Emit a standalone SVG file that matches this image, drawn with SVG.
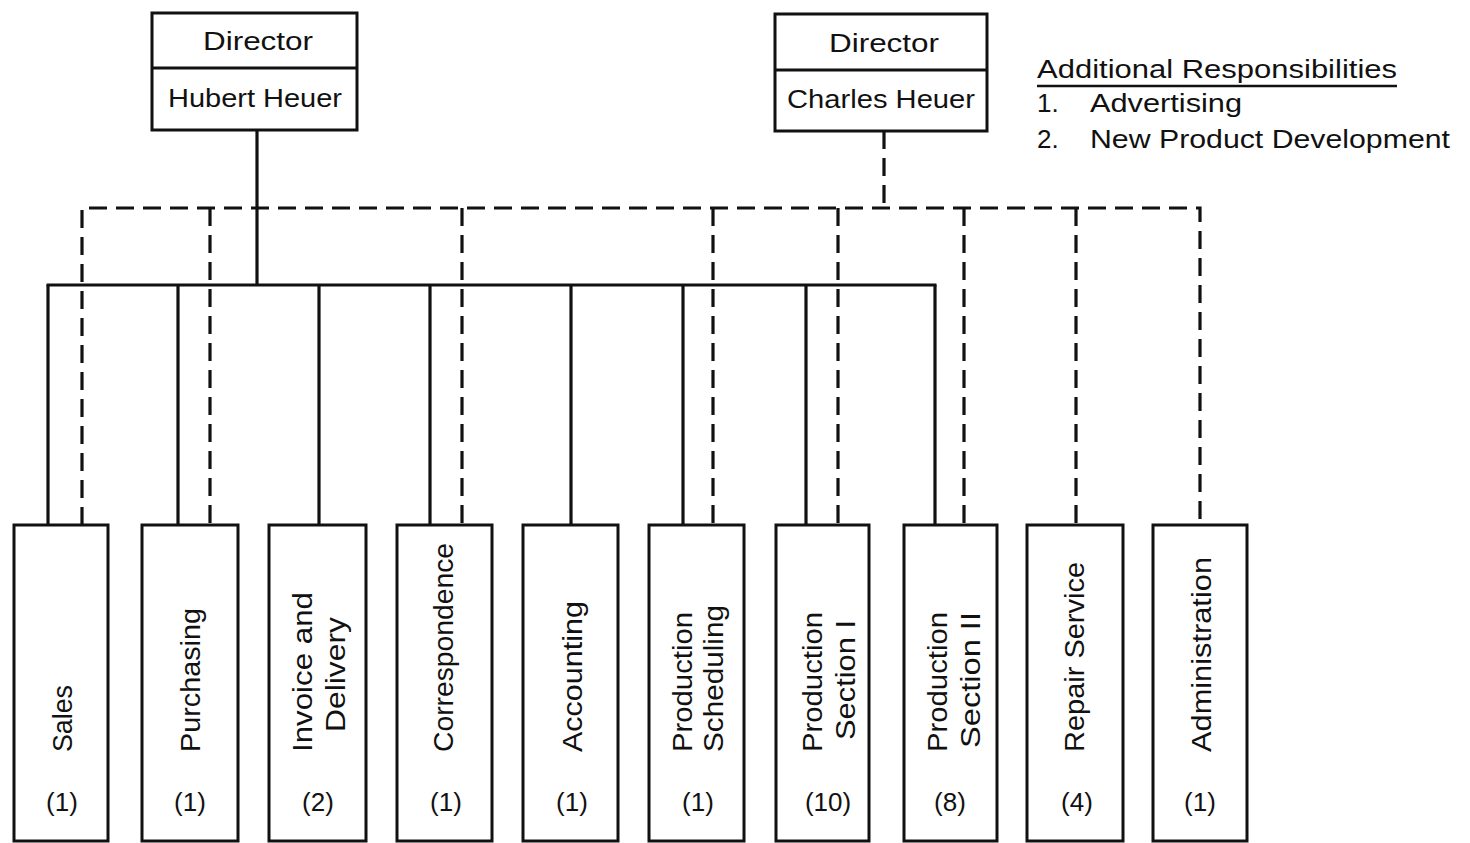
<svg xmlns="http://www.w3.org/2000/svg" width="1470" height="843" viewBox="0 0 1470 843">
<style>
  .bg{fill:#fff}
  .box{fill:#fff;stroke:#111;stroke-width:3}
  .solid{fill:none;stroke:#111;stroke-width:3.2}
  .dash{fill:none;stroke:#111;stroke-width:3.2;stroke-dasharray:18 9}
  text{font-family:"Liberation Sans",Arial,sans-serif;fill:#111;font-size:26px}
  .c{text-anchor:middle}
  .v{font-size:27px}
</style>
<rect class="bg" x="0" y="0" width="1470" height="843"/>

<g id="connectors">
  <!-- solid: Hubert Heuer -->
  <line class="solid" x1="257" y1="130" x2="257" y2="285"/>
  <line class="solid" x1="46.5" y1="285" x2="936.5" y2="285"/>
  <line class="solid" x1="48" y1="285" x2="48" y2="525"/>
  <line class="solid" x1="178" y1="285" x2="178" y2="525"/>
  <line class="solid" x1="319" y1="285" x2="319" y2="525"/>
  <line class="solid" x1="430" y1="285" x2="430" y2="525"/>
  <line class="solid" x1="571" y1="285" x2="571" y2="525"/>
  <line class="solid" x1="683" y1="285" x2="683" y2="525"/>
  <line class="solid" x1="806" y1="285" x2="806" y2="525"/>
  <line class="solid" x1="935" y1="285" x2="935" y2="525"/>
  <!-- dashed: Charles Heuer -->
  <path class="dash" d="M884 131 V208"/>
  <path class="dash" d="M82 525 V208 H1200 V525"/>
  <path class="dash" d="M210 208 V525"/>
  <path class="dash" d="M462 208 V525"/>
  <path class="dash" d="M713 208 V525"/>
  <path class="dash" d="M838 208 V525"/>
  <path class="dash" d="M964 208 V525"/>
  <path class="dash" d="M1076 208 V525"/>
</g>

<g id="director-hubert">
  <rect class="box" x="152" y="13" width="205" height="117"/>
  <line class="box" x1="152" y1="68" x2="357" y2="68"/>
  <text class="c" x="258" y="50" textLength="110" lengthAdjust="spacingAndGlyphs">Director</text>
  <text class="c" x="255" y="107" textLength="174" lengthAdjust="spacingAndGlyphs">Hubert Heuer</text>
</g>

<g id="director-charles">
  <rect class="box" x="775" y="14" width="212" height="117"/>
  <line class="box" x1="775" y1="70" x2="987" y2="70"/>
  <text class="c" x="884" y="52" textLength="110" lengthAdjust="spacingAndGlyphs">Director</text>
  <text class="c" x="881" y="108" textLength="188" lengthAdjust="spacingAndGlyphs">Charles Heuer</text>
</g>

<g id="responsibilities">
  <text x="1037" y="78" textLength="360" lengthAdjust="spacingAndGlyphs">Additional Responsibilities</text>
  <line x1="1037" y1="86" x2="1397" y2="86" stroke="#111" stroke-width="2.5"/>
  <text x="1037" y="112">1.</text>
  <text x="1090" y="112" textLength="152" lengthAdjust="spacingAndGlyphs">Advertising</text>
  <text x="1037" y="148">2.</text>
  <text x="1090" y="148" textLength="360" lengthAdjust="spacingAndGlyphs">New Product Development</text>
</g>

<g id="sales">
  <rect class="box" x="14" y="525" width="94" height="316"/>
  <text class="v" transform="translate(72,752) rotate(-90)" textLength="67" lengthAdjust="spacingAndGlyphs">Sales</text>
  <text class="c" x="62" y="811">(1)</text>
</g>
<g id="purchasing">
  <rect class="box" x="142" y="525" width="96" height="316"/>
  <text class="v" transform="translate(200,752) rotate(-90)" textLength="144" lengthAdjust="spacingAndGlyphs">Purchasing</text>
  <text class="c" x="190" y="811">(1)</text>
</g>
<g id="invoice-delivery">
  <rect class="box" x="269" y="525" width="97" height="316"/>
  <text class="v" transform="translate(312,752) rotate(-90)" textLength="160" lengthAdjust="spacingAndGlyphs">Invoice and</text>
  <text class="v" transform="translate(345,732) rotate(-90)" textLength="115" lengthAdjust="spacingAndGlyphs">Delivery</text>
  <text class="c" x="318" y="811">(2)</text>
</g>
<g id="correspondence">
  <rect class="box" x="397" y="525" width="95" height="316"/>
  <text class="v" transform="translate(453,752) rotate(-90)" textLength="209" lengthAdjust="spacingAndGlyphs">Correspondence</text>
  <text class="c" x="446" y="811">(1)</text>
</g>
<g id="accounting">
  <rect class="box" x="523" y="525" width="95" height="316"/>
  <text class="v" transform="translate(582,752) rotate(-90)" textLength="151" lengthAdjust="spacingAndGlyphs">Accounting</text>
  <text class="c" x="572" y="811">(1)</text>
</g>
<g id="production-scheduling">
  <rect class="box" x="649" y="525" width="95" height="316"/>
  <text class="v" transform="translate(692,752) rotate(-90)" textLength="140" lengthAdjust="spacingAndGlyphs">Production</text>
  <text class="v" transform="translate(723,752) rotate(-90)" textLength="147" lengthAdjust="spacingAndGlyphs">Scheduling</text>
  <text class="c" x="698" y="811">(1)</text>
</g>
<g id="production-section-1">
  <rect class="box" x="776" y="525" width="93" height="316"/>
  <text class="v" transform="translate(822,752) rotate(-90)" textLength="140" lengthAdjust="spacingAndGlyphs">Production</text>
  <text class="v" transform="translate(855,740) rotate(-90)" textLength="120" lengthAdjust="spacingAndGlyphs">Section I</text>
  <text class="c" x="828" y="811">(10)</text>
</g>
<g id="production-section-2">
  <rect class="box" x="904" y="525" width="93" height="316"/>
  <text class="v" transform="translate(947,752) rotate(-90)" textLength="140" lengthAdjust="spacingAndGlyphs">Production</text>
  <text class="v" transform="translate(980,748) rotate(-90)" textLength="136" lengthAdjust="spacingAndGlyphs">Section II</text>
  <text class="c" x="950" y="811">(8)</text>
</g>
<g id="repair-service">
  <rect class="box" x="1027" y="525" width="96" height="316"/>
  <text class="v" transform="translate(1084,752) rotate(-90)" textLength="190" lengthAdjust="spacingAndGlyphs">Repair Service</text>
  <text class="c" x="1077" y="811">(4)</text>
</g>
<g id="administration">
  <rect class="box" x="1153" y="525" width="94" height="316"/>
  <text class="v" transform="translate(1211,752) rotate(-90)" textLength="195" lengthAdjust="spacingAndGlyphs">Administration</text>
  <text class="c" x="1200" y="811">(1)</text>
</g>
</svg>
